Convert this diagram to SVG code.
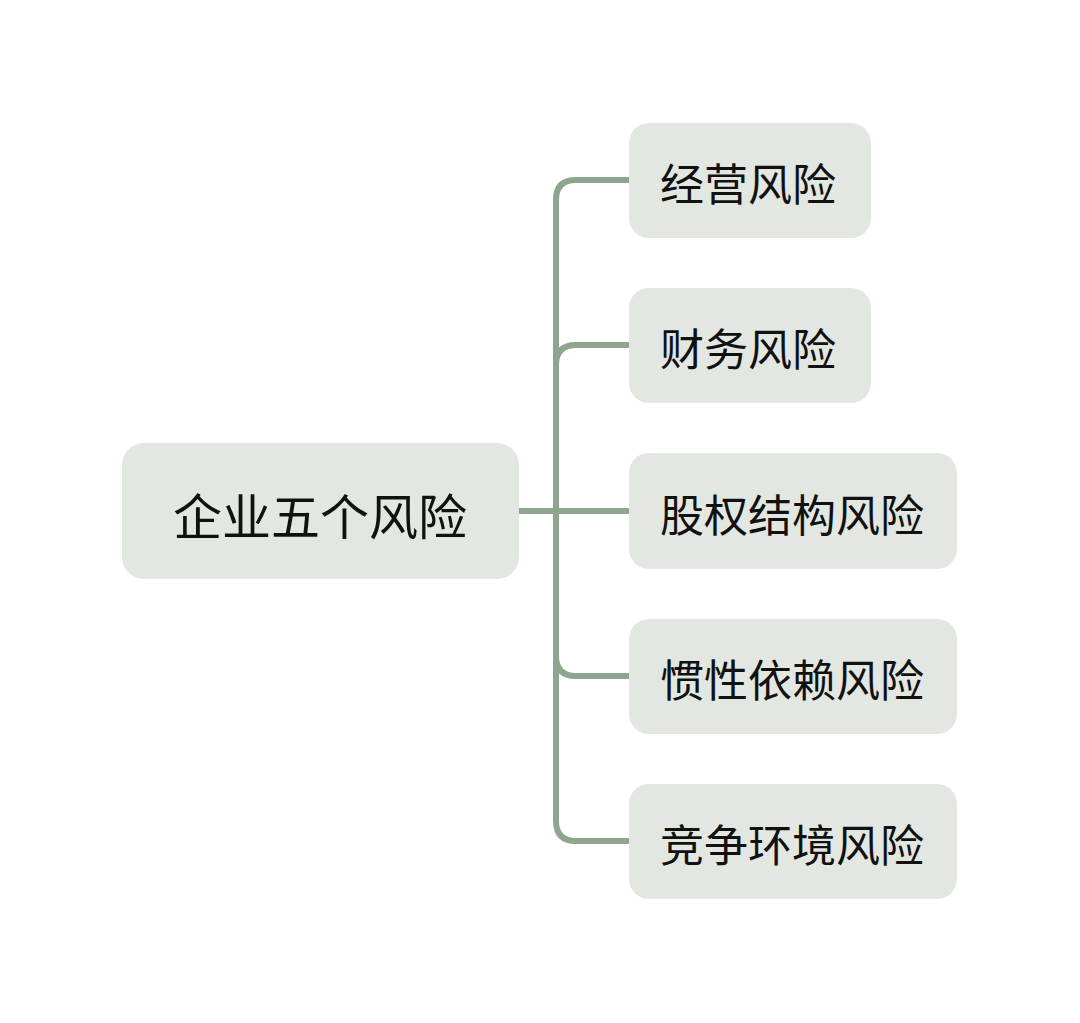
<svg xmlns="http://www.w3.org/2000/svg" width="1080" height="1023" viewBox="0 0 1080 1023">
<style>
.box{fill:#e3e7e1}
.t{font-family:"Noto Sans CJK SC","Noto Sans",sans-serif;fill:#111;dominant-baseline:central}
.c{fill:none;stroke:#8fa68e;stroke-width:6;stroke-linecap:butt}
</style>
<rect width="1080" height="1023" fill="#ffffff"/>
<g id="connectors">
<path class="c" d="M519 511 H629"/>
<path class="c" d="M629 180 H576 Q556 180 556 200 V821 Q556 841 576 841 H629"/>
<path class="c" d="M629 345 H576 Q556 345 556 365"/>
<path class="c" d="M629 676 H576 Q556 676 556 656"/>
</g>
<g id="root">
<rect class="box" x="122" y="443" width="397" height="136" rx="22"/>
<text class="t" x="320" y="513" font-size="49" text-anchor="middle">企业五个风险</text>
</g>
<g id="n1">
<rect class="box" x="629" y="123" width="242" height="115" rx="20"/>
<text class="t" x="660" y="182" font-size="44">经营风险</text>
</g>
<g id="n2">
<rect class="box" x="629" y="288" width="242" height="115" rx="20"/>
<text class="t" x="660" y="347" font-size="44">财务风险</text>
</g>
<g id="n3">
<rect class="box" x="629" y="453" width="328" height="116" rx="20"/>
<text class="t" x="660" y="513" font-size="44">股权结构风险</text>
</g>
<g id="n4">
<rect class="box" x="629" y="619" width="328" height="115" rx="20"/>
<text class="t" x="660" y="678" font-size="44">惯性依赖风险</text>
</g>
<g id="n5">
<rect class="box" x="629" y="784" width="328" height="115" rx="20"/>
<text class="t" x="660" y="843" font-size="44">竞争环境风险</text>
</g>
</svg>
